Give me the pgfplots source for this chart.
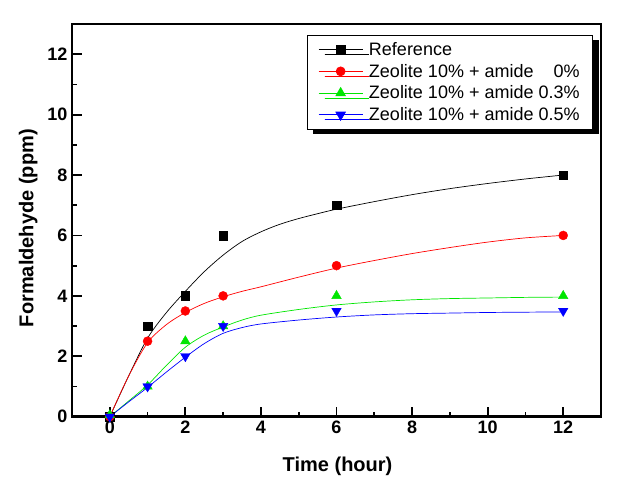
\documentclass[border=0pt]{standalone}
\usepackage{pgfplots}
\pgfplotsset{compat=1.18}
\usepackage{fontspec}
\setmainfont{Liberation Sans}
\usetikzlibrary{shadows}
\definecolor{cred}{RGB}{255,0,0}
\definecolor{cgreen}{RGB}{0,230,0}
\definecolor{cblue}{RGB}{0,0,255}
\begin{document}
\begin{tikzpicture}
\begin{axis}[
  at={(0,0)}, anchor=south west,
  scale only axis, width=529bp, height=392.7bp,
  xmin=-1, xmax=13, ymin=0, ymax=13,
  xtick={0,2,...,12}, ytick={0,2,...,12},
  minor x tick num=1, minor y tick num=1,
  xtick pos=bottom, ytick pos=left,
  tick align=inside,
  major tick length=10bp, minor tick length=5bp,
  every tick/.style={black, line width=1.8bp},
  axis line style={line width=2.6bp},
  /pgf/number format/assume math mode=true,
  tick label style={font=\fontsize{18bp}{18bp}\selectfont\bfseries},
  xticklabel style={yshift=-1bp},
  yticklabel style={xshift=-1bp},
  xlabel={Time (hour)}, ylabel={Formaldehyde (ppm)},
  label style={font=\fontsize{20bp}{20bp}\selectfont\bfseries},
  x label style={at={(axis description cs:0.502,-0.127)}, anchor=center},
  y label style={at={(axis description cs:-0.083,0.48)}, anchor=center},
  legend image code/.code={\draw[mark repeat=2,mark phase=2,#1] plot coordinates {(0bp,0bp) (22bp,0bp) (44bp,0bp)};},
  legend cell align=left,
  legend style={at={(axis description cs:1,1)}, xshift=-8bp, yshift=-11bp, anchor=north east,
    font=\fontsize{18bp}{19bp}\selectfont, draw=black, line width=0.8bp,
    inner xsep=11bp, inner ysep=5bp, row sep=3.2bp,
    /tikz/every odd column/.append style={column sep=4bp},
    drop shadow={shadow xshift=6bp, shadow yshift=-5bp, opacity=1, fill=black},
    fill=white},
]
% fitted curves
\addplot[black, line width=0.7bp, smooth, forget plot] coordinates {(0,0) (0.5,1.35) (1,2.6) (1.5,3.45) (2,4.15) (2.5,4.8) (3,5.35) (3.5,5.8) (4,6.12) (4.5,6.37) (5,6.56) (5.5,6.72) (6,6.87) (7,7.12) (8,7.35) (9,7.55) (10,7.72) (11,7.87) (12,8.0)};
\addplot[cred, line width=0.7bp, smooth, forget plot] coordinates {(0,0) (0.5,1.35) (1,2.45) (1.5,3.05) (2,3.45) (2.5,3.75) (3,3.97) (3.5,4.15) (4,4.3) (5,4.62) (6,4.92) (7,5.17) (8,5.4) (9,5.6) (10,5.78) (11,5.92) (12,6.0)};
\addplot[cgreen, line width=0.7bp, smooth, forget plot] coordinates {(0,0) (0.5,0.52) (1,1.05) (1.5,1.7) (2,2.3) (2.5,2.7) (3,2.97) (3.5,3.2) (4,3.36) (5,3.55) (6,3.7) (7,3.8) (8,3.87) (9,3.91) (10,3.93) (11,3.95) (12,3.96)};
\addplot[cblue, line width=0.7bp, smooth, forget plot] coordinates {(0,0) (0.5,0.49) (1,0.97) (1.5,1.48) (2,1.97) (2.5,2.42) (3,2.76) (3.5,2.95) (4,3.07) (5,3.2) (6,3.3) (7,3.37) (8,3.41) (9,3.43) (10,3.45) (11,3.46) (12,3.47)};
% data points
\addplot[black, only marks, mark=square*, mark size=4.3bp, forget plot] coordinates {(0,0) (1,3) (2,4) (3,6) (6,7) (12,8)};
\addplot[cred, only marks, mark=*, mark size=4.5bp, forget plot] coordinates {(0,0) (1,2.5) (2,3.5) (3,4) (6,5) (12,6)};
\addplot[cgreen, only marks, mark=triangle*, mark size=5.5bp, forget plot] coordinates {(0,0.05) (1,1) (2,2.5) (3,3) (6,4) (12,4)};
\addplot[cblue, only marks, mark=triangle*, mark options={rotate=180}, mark size=5.5bp, forget plot] coordinates {(0,0) (1,1) (2,2) (3,3) (6,3.5) (12,3.5)};
\addlegendimage{black, line width=0.7bp, mark=square*, mark size=4.3bp}
\addlegendentry{Reference}
\addlegendimage{cred, line width=0.7bp, mark=*, mark size=4.5bp}
\addlegendentry{Zeolite 10\% + amide \hphantom{0.}0\%}
\addlegendimage{cgreen, line width=0.7bp, mark=triangle*, mark size=5.5bp}
\addlegendentry{Zeolite 10\% + amide 0.3\%}
\addlegendimage{cblue, line width=0.7bp, mark=triangle*, mark options={rotate=180}, mark size=5.5bp}
\addlegendentry{Zeolite 10\% + amide 0.5\%}
\end{axis}
\path (-72bp,-76.3bp) rectangle (557bp,416.7bp);
\end{tikzpicture}
\end{document}
